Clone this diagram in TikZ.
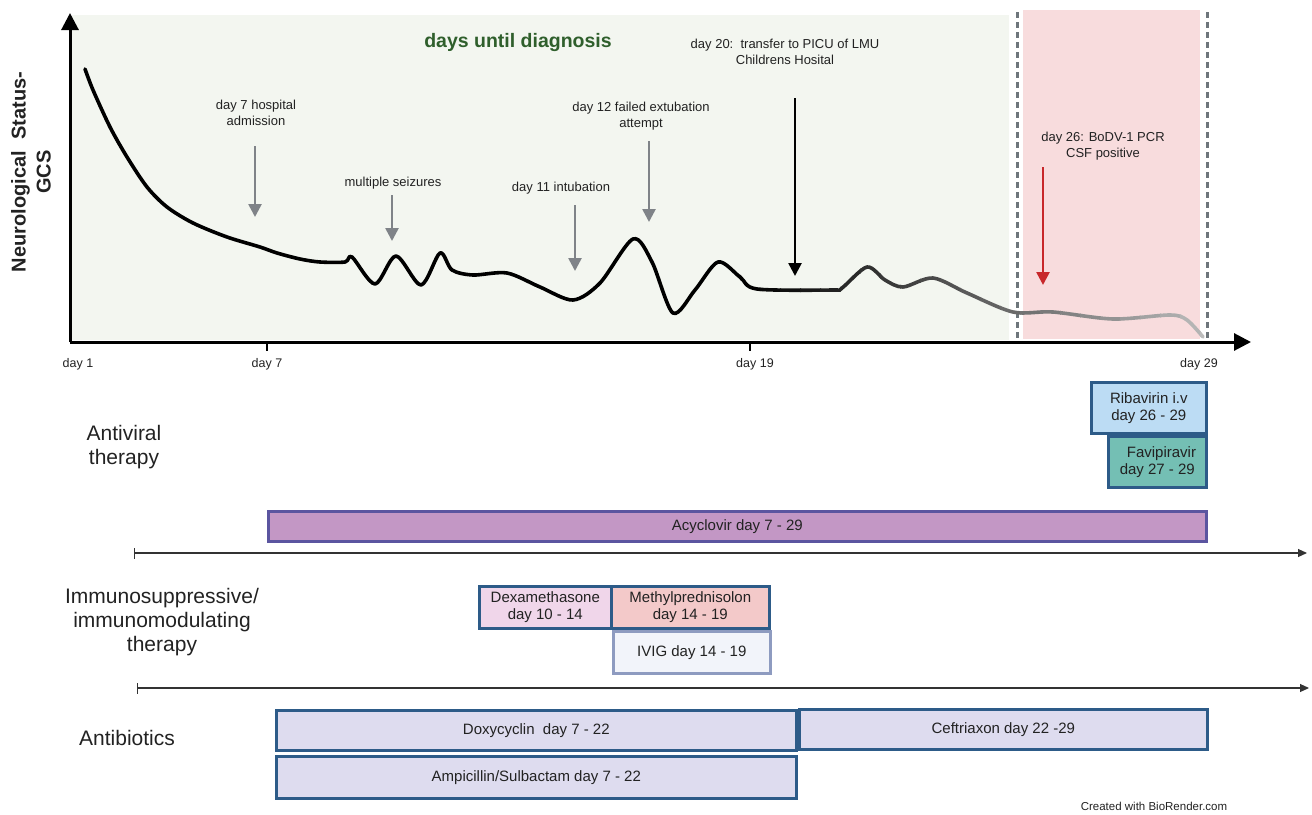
\documentclass[tikz,border=0pt]{standalone}
\usepackage{fontspec}
\setmainfont{Liberation Sans}
\usetikzlibrary{arrows.meta}
\definecolor{bggreen}{HTML}{F3F6F0}
\definecolor{bgpink}{HTML}{F8DCDD}
\definecolor{dgreen}{HTML}{2F5F2C}
\definecolor{garrow}{HTML}{7F8388}
\definecolor{rarrow}{HTML}{C8282B}
\definecolor{dashgray}{HTML}{6E767B}
\definecolor{bluebd}{HTML}{2D5B88}
\definecolor{purpbd}{HTML}{5B55A0}
\definecolor{ivigbd}{HTML}{8E9BC0}
\definecolor{ribfill}{HTML}{BCDCF4}
\definecolor{favfill}{HTML}{74BFB4}
\definecolor{acyfill}{HTML}{C397C5}
\definecolor{dexfill}{HTML}{F0D6EA}
\definecolor{metfill}{HTML}{F3C9C9}
\definecolor{ivigfill}{HTML}{F2F4FA}
\definecolor{abfill}{HTML}{DEDCEF}
\definecolor{txt}{HTML}{222222}
\tikzset{
  axisline/.style={line width=3pt, -{Triangle[width=17pt,length=17pt]}},
  evarrow/.style={line width=2.6pt, -{Triangle[width=13pt,length=13pt]}},
  annot/.style={font=\fontsize{13}{16}\selectfont, text=txt, align=center, inner sep=0pt},
  ticklab/.style={font=\fontsize{12.5}{15}\selectfont, text=txt, inner sep=0pt},
  grouplab/.style={font=\fontsize{21}{24}\selectfont, text=txt, align=center, inner sep=0pt},
  drugbox/.style={draw=bluebd, line width=2.6pt, anchor=north west, inner sep=0pt,
    font=\fontsize{15}{17}\selectfont, text=txt, align=center},
  divider/.style={line width=1.1pt, draw=black!80, {Bar[width=11pt]}-{Triangle[length=9pt,width=8pt]}},
  dashv/.style={draw=dashgray, line width=3pt, dash pattern=on 6pt off 4pt},
}
\def\gcs{plot[smooth,tension=0.5] coordinates {(85,69) (93,90) (110,127) (127,157) (147,187) (167,207) (193,223) (227,237) (260,247) (277,253) (300,259) (320,262) (345,262) (352,257) (375,284) (396,256) (421,285) (440,253) (452,270) (473,275) (507,273) (540,287) (573,300) (600,283) (633,239) (652,262) (673,313) (695,290) (718,262) (740,277) (757,289) (833,290) (842,288) (867,267) (885,280) (903,287) (933,278) (967,293) (1013,312) (1053,312) (1113,319) (1170,315) (1187,320) (1203,337)}}
\begin{document}
\begin{tikzpicture}[x=1pt,y=-1pt]
\useasboundingbox (0,0) rectangle (1312,814);
% backgrounds
\fill[bggreen] (72,15) rectangle (1009,340);
\fill[bgpink] (1023,10) rectangle (1200,339);
\draw[dashv] (1017,12) -- (1017,340);
\draw[dashv] (1207,12) -- (1207,340);
% curve
\begin{scope}
\clip (60,0) rectangle (741,345);
\draw[line width=3.6pt, black, line cap=round, line join=round] \gcs;
\end{scope}
\foreach \i in {0,...,24}{
  \pgfmathsetmacro\xa{740+20*\i}
  \pgfmathsetmacro\xb{761+20*\i}
  \pgfmathsetmacro\pc{100-3.2*\i}
  \begin{scope}
  \clip (\xa,0) rectangle (\xb,345);
  \draw[line width=3.6pt, black!\pc!white, line cap=round, line join=round] \gcs;
  \end{scope}
}
% axes
\coordinate (O) at (70,342);
\coordinate (ytop) at (70,13);
\coordinate (xend) at (1251,342);
\draw[axisline] (O) -- (ytop);
\draw[axisline] (O) -- (xend);
\coordinate (t7) at (267,342);
\coordinate (t19) at (750,342);
\draw[line width=1.2pt] (t7) -- ++(0,9);
\draw[line width=1.2pt] (t19) -- ++(0,9);
\node[ticklab] (d1) at (78,364) {day 1};
\node[ticklab] (d7) at (267,364) {day 7};
\node[ticklab] (d19) at (755,364) {day 19};
\node[ticklab] (d29) at (1199,364) {day 29};
% y label
\node[font=\fontsize{20}{25}\selectfont\bfseries, text=txt, align=center, rotate=90, inner sep=0pt] (ylab) at (31,172) {Neurological\ \ Status-\\GCS};
% title
\node[font=\fontsize{19.5}{22}\selectfont\bfseries, text=dgreen, inner sep=0pt] (title) at (518,42) {days until diagnosis};
% annotations
\node[annot] (a7) at (256,113) {day 7 hospital\\admission};
\coordinate (a7s) at (255,146); \coordinate (a7e) at (255,217);
\draw[evarrow, garrow] (a7s) -- (a7e);
\node[annot] (aseiz) at (393,183) {multiple seizures};
\coordinate (as1) at (392,195); \coordinate (ae1) at (392,241);
\draw[evarrow, garrow] (as1) -- (ae1);
\node[annot] (a11) at (561,188) {day 11 intubation};
\coordinate (as2) at (575,205); \coordinate (ae2) at (575,271);
\draw[evarrow, garrow] (as2) -- (ae2);
\node[annot] (a12) at (641,116) {day 12 failed extubation\\attempt};
\coordinate (as3) at (649,141); \coordinate (ae3) at (649,222);
\draw[evarrow, garrow] (as3) -- (ae3);
\node[annot] (a20) at (785,52) {day 20:\ \ transfer to PICU of LMU\\Childrens Hosital};
\coordinate (as4) at (795,98); \coordinate (ae4) at (795,276);
\draw[evarrow, black] (as4) -- (ae4);
\node[annot] (a26) at (1103,146) {day 26: BoDV-1 PCR\\CSF positive};
\coordinate (as5) at (1043,167); \coordinate (ae5) at (1043,285);
\draw[evarrow, rarrow] (as5) -- (ae5);
% antiviral
\node[grouplab] (gav) at (124,447) {Antiviral\\therapy};
\node[drugbox, fill=ribfill, minimum width=115pt, minimum height=51pt] (rib) at (1090,381) {Ribavirin i.v\\day 26 - 29};
\node[drugbox, fill=favfill, minimum width=98pt, minimum height=51pt] (fav) at (1107,435) {\ \ Favipiravir\\day 27 - 29};
\node[drugbox, draw=purpbd, fill=acyfill, minimum width=938pt, minimum height=30pt] (acy) at (267,510) {Acyclovir day 7 - 29};
\coordinate (l1s) at (134,553); \coordinate (l1e) at (1307,553);
\draw[divider] (l1s) -- (l1e);
% immuno
\node[grouplab] (gim) at (162,622) {Immunosuppressive/\\immunomodulating\\therapy};
\node[drugbox, fill=dexfill, minimum width=132pt, minimum height=42pt] (dex) at (478,585) {Dexamethasone\\day 10 - 14};
\node[drugbox, fill=metfill, minimum width=158pt, minimum height=42pt] (met) at (610,585) {Methylprednisolon\\day 14 - 19};
\node[drugbox, draw=ivigbd, fill=ivigfill, minimum width=157pt, minimum height=42pt] (ivig) at (612,630) {IVIG day 14 - 19};
\coordinate (l2s) at (137,688); \coordinate (l2e) at (1309,688);
\draw[divider] (l2s) -- (l2e);
% antibiotics
\node[grouplab] (gab) at (127,738) {Antibiotics};
\node[drugbox, fill=abfill, minimum width=520pt, minimum height=40pt] (dox) at (275,709) {Doxycyclin\ \ day 7 - 22};
\node[drugbox, fill=abfill, minimum width=408pt, minimum height=40pt] (cef) at (798,708) {Ceftriaxon day 22 -29};
\node[drugbox, fill=abfill, minimum width=520pt, minimum height=42pt] (amp) at (275,755) {Ampicillin/Sulbactam day 7 - 22};
\node[font=\fontsize{11.5}{14}\selectfont, text=txt, inner sep=0pt] (credit) at (1154,806) {Created with BioRender.com};
\end{tikzpicture}
\end{document}
